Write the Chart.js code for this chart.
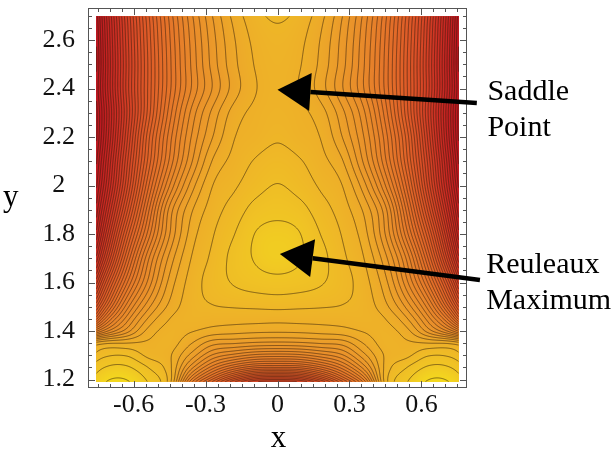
<!DOCTYPE html>
<html>
<head>
<meta charset="utf-8">
<script src="https://cdn.jsdelivr.net/npm/chart.js@4.4.1/dist/chart.umd.min.js"></script>
<style>
  html, body { margin: 0; padding: 0; background: #fff; }
</style>
</head>
<body>
<canvas id="c" width="614" height="449"></canvas>
<script>
// field values, in contour-level units (one line per unit)
// half plane x >= 0, the plot is mirror symmetric in x
const fieldX = [0, 0.09, 0.18, 0.27, 0.36, 0.45, 0.54, 0.63, 0.72, 0.81];
const fieldY = [1.15, 1.2, 1.25, 1.3, 1.35, 1.4, 1.45, 1.5, 1.6, 1.7, 1.8, 1.9, 2.0, 2.1, 2.2, 2.3, 2.4, 2.5, 2.6, 2.7, 2.8];
const fieldRows = [
  [-32, -31.8, -28.6, -22.55, -15.6, -3.0, 0.28, 1.43, 1.29, -0.15],
  [-24, -23.5, -20.6, -16.2, -10.9, -2.5, -0.16, 0.99, 0.85, -0.59],
  [-16, -15.8, -14.2, -11.54, -7.54, -2.7, -1.0, 0.15, 0.01, -1.43],
  [-10.5, -10.3, -9.4, -8.15, -5.34, -2.85, -2.24, -1.09, -1.23, -2.67],
  [-6.3, -6.2, -5.9, -5.6, -3.93, -2.54, -2.8, -3.0, -3.2, -4.5],
  [-3.8, -3.75, -3.6, -3.4, -2.92, -2.6, -3.69, -6.5, -9.5, -14],
  [-2.7, -2.66, -2.64, -2.61, -2.5, -3.0, -4.9, -8.6, -14, -23],
  [-1.8, -1.87, -1.94, -2.07, -2.45, -3.7, -6.32, -10.6, -17.5, -27],
  [-0.34, -0.49, -0.89, -1.6, -2.57, -4.67, -8.77, -14.29, -22.3, -33.2],
  [0.4, 0.1, -0.65, -1.78, -2.99, -5.69, -10.28, -17.25, -26.54, -37.5],
  [0.3, 0.05, -1.02, -2.08, -3.56, -7.06, -12.69, -19.9, -29.45, -40.6],
  [-0.3, -0.62, -1.55, -2.5, -4.2, -7.7, -14.4, -22.5, -31.7, -41.9],
  [-0.95, -1.4, -2.15, -3.0, -5.6, -10, -16.3, -24.5, -33.5, -43],
  [-1.55, -1.9, -2.65, -3.9, -7.2, -11.8, -17.8, -25.5, -34.5, -44],
  [-2.12, -2.5, -3.05, -5.0, -8.0, -12.5, -18.5, -26.5, -35.5, -45],
  [-2.4, -2.72, -3.55, -5.7, -8.8, -13.5, -19.7, -27.2, -35.8, -45.0],
  [-2.5, -3.05, -4.5, -6.9, -10.0, -14.3, -19.9, -26.8, -35.2, -44.5],
  [-2.43, -2.9, -4.27, -6.58, -9.91, -14.33, -19.95, -26.9, -35.35, -45.46],
  [-2.25, -2.7, -4.07, -6.38, -9.71, -14.13, -19.75, -26.7, -35.15, -45.26],
  [-1.85, -2.3, -3.64, -5.95, -9.28, -13.7, -19.32, -26.27, -34.72, -44.83],
  [-1.2, -1.6, -2.9, -5.0, -8.2, -12.5, -18, -25, -33.5, -43.5]
];
const plotRangeX = [-0.757, 0.757];
const plotRangeY = [1.19, 2.70];
const contourStep = 1;

const xTicks = [-0.6, -0.3, 0, 0.3, 0.6];
const yTicks = [1.2, 1.4, 1.6, 1.8, 2, 2.2, 2.4, 2.6];

const labels = ['Saddle Point', 'Reuleaux Maximum'];
const arrowTips = [[0, 2.395], [0.01, 1.718]];
const arrowTails = [[0.831, 2.34], [0.844, 1.61]];
const labelAt = [[0.875, 2.353], [0.87, 1.639]];

// colours: low values red, high values yellow
const colorStops = [
  [-46, [170, 14, 28]],
  [-38, [190, 24, 32]],
  [-30, [206, 48, 36]],
  [-20, [222, 90, 40]],
  [-12, [230, 126, 42]],
  [-6, [235, 155, 42]],
  [-2.5, [238, 178, 40]],
  [0, [240, 197, 36]],
  [1.5, [245, 222, 28]]
];

function colorFor(v) {
  if (v <= colorStops[0][0]) return colorStops[0][1];
  for (let k = 1; k < colorStops.length; k++) {
    if (v <= colorStops[k][0]) {
      const [v0, c0] = colorStops[k - 1], [v1, c1] = colorStops[k];
      const t = (v - v0) / (v1 - v0);
      return [c0[0] + t * (c1[0] - c0[0]), c0[1] + t * (c1[1] - c0[1]), c0[2] + t * (c1[2] - c0[2])];
    }
  }
  return colorStops[colorStops.length - 1][1];
}

// cubic hermite through the read values
function hermite(ns, vs, t) {
  const n = ns.length;
  let k = 0;
  if (t >= ns[n - 1]) k = n - 2;
  else if (t > ns[0]) { while (t > ns[k + 1]) k++; }
  const slope = i => {
    if (i === 0) return (vs[1] - vs[0]) / (ns[1] - ns[0]);
    if (i === n - 1) return (vs[n - 1] - vs[n - 2]) / (ns[n - 1] - ns[n - 2]);
    const h0 = ns[i] - ns[i - 1], h1 = ns[i + 1] - ns[i];
    const d0 = (vs[i] - vs[i - 1]) / h0, d1 = (vs[i + 1] - vs[i]) / h1;
    return (d0 * h1 + d1 * h0) / (h0 + h1);
  };
  const h = ns[k + 1] - ns[k];
  const s = (t - ns[k]) / h, s2 = s * s, s3 = s2 * s;
  return (2 * s3 - 3 * s2 + 1) * vs[k] + (s3 - 2 * s2 + s) * slope(k) * h +
         (-2 * s3 + 3 * s2) * vs[k + 1] + (s3 - s2) * slope(k + 1) * h;
}

// mirror the half grid
const fullX = fieldX.slice(1).reverse().map(v => -v).concat(fieldX);
const fullRows = fieldRows.map(r => r.slice(1).reverse().concat(r));

const contourPlugin = {
  id: 'contour',
  beforeDatasetsDraw(chart) {
    const { ctx, chartArea: ca } = chart;
    const xs = chart.scales.x, ys = chart.scales.y;
    const left = Math.round(xs.getPixelForValue(plotRangeX[0]));
    const right = Math.round(xs.getPixelForValue(plotRangeX[1]));
    const top = Math.round(ys.getPixelForValue(plotRangeY[1]));
    const bottom = Math.round(ys.getPixelForValue(plotRangeY[0]));
    const W = right - left, H = bottom - top;

    const rowsAt = fullRows.map(r => {
      const a = new Float64Array(W);
      for (let i = 0; i < W; i++) a[i] = hermite(fullX, r, xs.getValueForPixel(left + i + 0.5));
      return a;
    });
    const yv = [];
    for (let j = 0; j < H; j++) yv.push(ys.getValueForPixel(top + j + 0.5));
    const V = new Float64Array(W * H);
    for (let i = 0; i < W; i++) {
      const col = rowsAt.map(a => a[i]);
      for (let j = 0; j < H; j++) V[j * W + i] = hermite(fieldY, col, yv[j]);
    }

    const off = document.createElement('canvas');
    off.width = W; off.height = H;
    const octx = off.getContext('2d');
    const img = octx.createImageData(W, H);
    for (let p = 0; p < W * H; p++) {
      const c = colorFor(V[p]);
      img.data[p * 4] = c[0]; img.data[p * 4 + 1] = c[1]; img.data[p * 4 + 2] = c[2]; img.data[p * 4 + 3] = 255;
    }
    octx.putImageData(img, 0, 0);
    ctx.save();
    ctx.drawImage(off, left, top);

    // contour lines, marching squares
    ctx.beginPath();
    const pts = [];
    for (let j = 0; j < H - 1; j++) {
      for (let i = 0; i < W - 1; i++) {
        const a = V[j * W + i], b = V[j * W + i + 1], c = V[(j + 1) * W + i + 1], d = V[(j + 1) * W + i];
        const lo = Math.min(a, b, c, d), hi = Math.max(a, b, c, d);
        for (let L = Math.ceil(lo / contourStep) * contourStep; L < hi; L += contourStep) {
          pts.length = 0;
          if ((a < L) !== (b < L)) { const t = (L - a) / (b - a); pts.push(t, 0); }
          if ((b < L) !== (c < L)) { const t = (L - b) / (c - b); pts.push(1, t); }
          if ((d < L) !== (c < L)) { const t = (L - d) / (c - d); pts.push(t, 1); }
          if ((a < L) !== (d < L)) { const t = (L - a) / (d - a); pts.push(0, t); }
          for (let k = 0; k + 3 < pts.length; k += 4) {
            ctx.moveTo(left + i + 0.5 + pts[k], top + j + 0.5 + pts[k + 1]);
            ctx.lineTo(left + i + 0.5 + pts[k + 2], top + j + 0.5 + pts[k + 3]);
          }
        }
      }
    }
    ctx.strokeStyle = 'rgba(45, 25, 10, 0.75)';
    ctx.lineWidth = 0.75;
    ctx.stroke();

    // frame with inward ticks on all sides
    ctx.strokeStyle = '#555';
    ctx.lineWidth = 1;
    ctx.strokeRect(ca.left + 0.5, ca.top + 0.5, ca.right - ca.left - 1, ca.bottom - ca.top - 1);
    ctx.beginPath();
    for (let k = -15; k <= 15; k++) {
      const v = k * 0.05;
      const major = xTicks.some(t => Math.abs(t - v) < 1e-6);
      const len = major ? 7 : 4;
      const px = Math.round(xs.getPixelForValue(v)) + 0.5;
      ctx.moveTo(px, ca.bottom); ctx.lineTo(px, ca.bottom - len);
      ctx.moveTo(px, ca.top); ctx.lineTo(px, ca.top + len);
    }
    for (let k = 24; k <= 54; k++) {
      const v = k * 0.05;
      const major = yTicks.some(t => Math.abs(t - v) < 1e-6);
      const len = major ? 7 : 4;
      const py = Math.round(ys.getPixelForValue(v)) + 0.5;
      ctx.moveTo(ca.left, py); ctx.lineTo(ca.left + len, py);
      ctx.moveTo(ca.right, py); ctx.lineTo(ca.right - len, py);
    }
    ctx.stroke();
    ctx.restore();
  },
  afterDraw(chart) {
    const { ctx } = chart;
    const xs = chart.scales.x, ys = chart.scales.y;
    ctx.save();
    // arrows
    ctx.fillStyle = '#000';
    ctx.strokeStyle = '#000';
    arrowTips.forEach((tip, k) => {
      const tx = xs.getPixelForValue(tip[0]), ty = ys.getPixelForValue(tip[1]);
      const sx = xs.getPixelForValue(arrowTails[k][0]), sy = ys.getPixelForValue(arrowTails[k][1]);
      const ang = Math.atan2(ty - sy, tx - sx);
      const hl = 33, hw = 19;
      const bx = tx - hl * Math.cos(ang), by = ty - hl * Math.sin(ang);
      ctx.beginPath();
      ctx.lineWidth = 4.5;
      ctx.moveTo(sx, sy); ctx.lineTo(bx, by);
      ctx.stroke();
      ctx.beginPath();
      ctx.moveTo(tx, ty);
      ctx.lineTo(bx + hw * Math.sin(ang), by - hw * Math.cos(ang));
      ctx.lineTo(bx - hw * Math.sin(ang), by + hw * Math.cos(ang));
      ctx.closePath();
      ctx.fill();
    });
    // annotation text
    ctx.font = '30px "Liberation Serif", "Times New Roman", serif';
    ctx.textAlign = 'left';
    ctx.textBaseline = 'alphabetic';
    labels.forEach((txt, k) => {
      const px = xs.getPixelForValue(labelAt[k][0]), py = ys.getPixelForValue(labelAt[k][1]);
      txt.split(' ').forEach((w, n) => ctx.fillText(w, px, py + n * 36));
    });
    // axis names
    ctx.font = '31px "Liberation Serif", "Times New Roman", serif';
    ctx.textAlign = 'center';
    ctx.fillText('x', xs.getPixelForValue(0) + 1, 447);
    ctx.textAlign = 'left';
    ctx.fillText('y', 3, ys.getPixelForValue(1.915));
    ctx.restore();
  }
};

const fmt = v => String(Math.round(v * 10) / 10);
const tickFont = { family: '"Liberation Serif", "Times New Roman", serif', size: 26 };

new Chart(document.getElementById('c'), {
  type: 'scatter',
  data: { datasets: [{ data: [], pointRadius: 0 }] },
  options: {
    responsive: false,
    animation: false,
    devicePixelRatio: 1,
    layout: { padding: { left: 0, right: 147, top: 8, bottom: 0 } },
    plugins: { legend: { display: false }, tooltip: { enabled: false } },
    scales: {
      x: {
        type: 'linear', min: -0.79, max: 0.79,
        grid: { display: false, drawTicks: false },
        border: { display: false },
        afterBuildTicks: axis => { axis.ticks = xTicks.map(v => ({ value: v })); },
        afterFit: axis => { axis.height = 61; axis.paddingLeft = 0; axis.paddingRight = 0; },
        ticks: { font: tickFont, color: '#111', padding: 2, maxRotation: 0, autoSkip: false, callback: v => fmt(v) }
      },
      y: {
        type: 'linear', min: 1.165, max: 2.732,
        grid: { display: false, drawTicks: false },
        border: { display: false },
        afterBuildTicks: axis => { axis.ticks = yTicks.map(v => ({ value: v })); },
        afterFit: axis => { axis.width = 88; axis.paddingTop = 0; axis.paddingBottom = 0; },
        ticks: { font: tickFont, color: '#111', padding: 13, crossAlign: 'center', autoSkip: false, callback: v => fmt(v) }
      }
    }
  },
  plugins: [contourPlugin]
});
</script>
</body>
</html>
